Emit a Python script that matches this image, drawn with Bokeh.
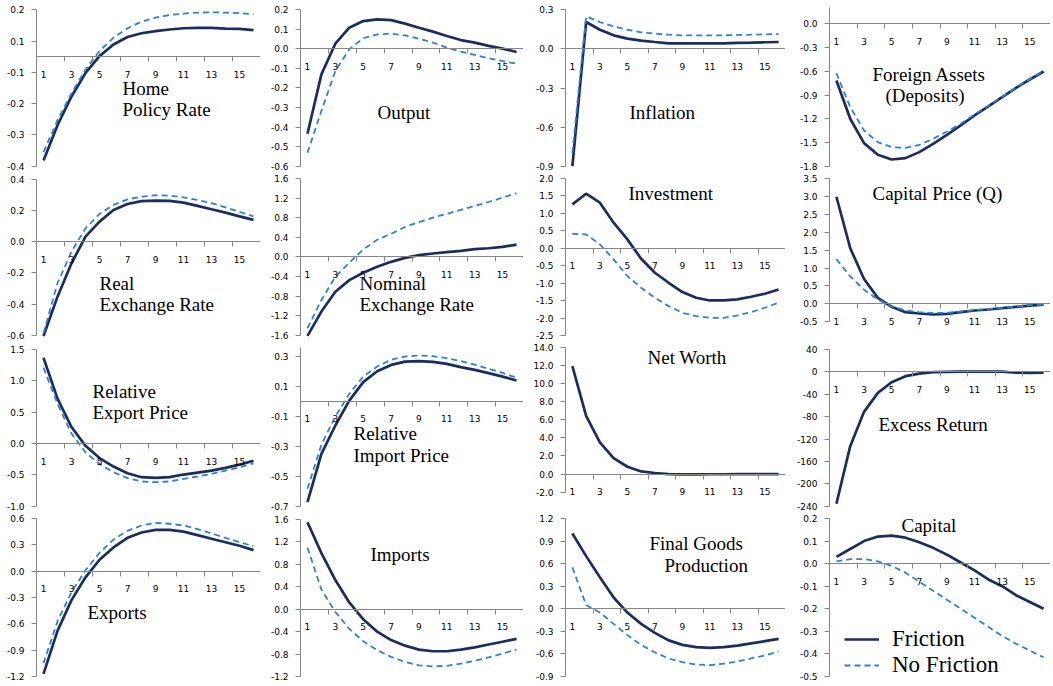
from bokeh.plotting import figure
from bokeh.layouts import gridplot
from bokeh.models import LinearAxis, FixedTicker, Range1d, Label, Legend, LegendItem
from bokeh.embed import file_html
from bokeh.resources import INLINE

# ---------------- data ----------------
periods = list(range(1, 17))
x_label_periods = [1, 3, 5, 7, 9, 11, 13, 15]

home_policy_friction = [-0.332, -0.219, -0.127, -0.052, 0.002, 0.039, 0.063, 0.075, 0.082, 0.087, 0.091, 0.092, 0.092, 0.090, 0.089, 0.085]
home_policy_nofriction = [-0.305, -0.203, -0.117, -0.041, 0.018, 0.061, 0.091, 0.112, 0.125, 0.133, 0.138, 0.141, 0.142, 0.141, 0.139, 0.136]
home_policy_ticks = [-0.35, -0.25, -0.15, -0.05, 0.05, 0.15]
home_policy_labels = ["-0.4", "-0.3", "-0.2", "-0.1", "0.1", "0.2"]

output_friction = [-0.434, -0.131, 0.026, 0.107, 0.141, 0.150, 0.146, 0.128, 0.107, 0.087, 0.065, 0.044, 0.031, 0.014, 0.000, -0.017]
output_nofriction = [-0.531, -0.318, -0.114, -0.003, 0.053, 0.073, 0.077, 0.068, 0.051, 0.031, 0.005, -0.015, -0.032, -0.049, -0.063, -0.077]
output_ticks = [-0.6, -0.5, -0.4, -0.3, -0.2, -0.1, 0.0, 0.1, 0.2]
output_labels = ["-0.6", "-0.5", "-0.4", "-0.3", "-0.2", "-0.1", "0.0", "0.1", "0.2"]

inflation_friction = [-0.90, 0.206, 0.147, 0.104, 0.079, 0.064, 0.053, 0.043, 0.043, 0.043, 0.043, 0.043, 0.046, 0.048, 0.051, 0.053]
inflation_nofriction = [-0.80, 0.249, 0.206, 0.173, 0.147, 0.127, 0.117, 0.109, 0.104, 0.104, 0.104, 0.104, 0.107, 0.109, 0.112, 0.114]
inflation_ticks = [-0.9, -0.6, -0.3, 0.0, 0.3]
inflation_labels = ["-0.9", "-0.6", "-0.3", "0.0", "0.3"]

foreign_friction = [-0.716, -1.200, -1.508, -1.656, -1.715, -1.698, -1.622, -1.517, -1.403, -1.285, -1.159, -1.045, -0.927, -0.809, -0.704, -0.603]
foreign_nofriction = [-0.624, -1.053, -1.348, -1.496, -1.559, -1.567, -1.530, -1.454, -1.361, -1.264, -1.145, -1.035, -0.922, -0.806, -0.700, -0.600]
foreign_ticks = [-1.8, -1.5, -1.2, -0.9, -0.6, -0.3, 0.0]
foreign_labels = ["-1.8", "-1.5", "-1.2", "-0.9", "-0.6", "-0.3", "0.0"]

real_er_friction = [-0.605, -0.353, -0.139, 0.032, 0.128, 0.203, 0.241, 0.259, 0.263, 0.261, 0.250, 0.229, 0.207, 0.186, 0.162, 0.139]
real_er_nofriction = [-0.588, -0.267, -0.064, 0.085, 0.177, 0.235, 0.271, 0.288, 0.297, 0.295, 0.284, 0.267, 0.246, 0.220, 0.190, 0.162]
real_er_ticks = [-0.6, -0.4, -0.2, 0.0, 0.2, 0.4]
real_er_labels = ["-0.6", "-0.4", "-0.2", "0.0", "0.2", "0.4"]

nominal_er_friction = [-1.613, -1.118, -0.712, -0.475, -0.325, -0.203, -0.102, -0.020, 0.034, 0.068, 0.095, 0.122, 0.156, 0.176, 0.203, 0.250]
nominal_er_nofriction = [-1.458, -0.881, -0.407, -0.120, 0.150, 0.350, 0.470, 0.610, 0.710, 0.800, 0.880, 0.960, 1.040, 1.120, 1.210, 1.300]
nominal_er_ticks = [-1.6, -1.2, -0.8, -0.4, 0.0, 0.4, 0.8, 1.2, 1.6]
nominal_er_labels = ["-1.6", "-1.2", "-0.8", "-0.4", "0.0", "0.4", "0.8", "1.2", "1.6"]

investment_friction = [1.26, 1.565, 1.307, 0.735, 0.258, -0.296, -0.697, -0.983, -1.250, -1.412, -1.489, -1.489, -1.460, -1.384, -1.298, -1.174]
investment_nofriction = [0.42, 0.40, 0.115, -0.315, -0.792, -1.126, -1.412, -1.651, -1.842, -1.937, -1.985, -1.985, -1.918, -1.823, -1.698, -1.555]
investment_ticks = [-2.5, -2.0, -1.5, -1.0, -0.5, 0.0, 0.5, 1.0, 1.5, 2.0]
investment_labels = ["-2.5", "-2.0", "-1.5", "-1.0", "-0.5", "0.0", "0.5", "1.0", "1.5", "2.0"]

capital_price_friction = [2.99, 1.556, 0.694, 0.167, -0.083, -0.231, -0.269, -0.296, -0.278, -0.231, -0.185, -0.157, -0.120, -0.083, -0.046, -0.019]
capital_price_nofriction = [1.25, 0.768, 0.398, 0.120, -0.065, -0.185, -0.231, -0.250, -0.250, -0.213, -0.176, -0.139, -0.111, -0.074, -0.037, -0.019]
capital_price_ticks = [-0.5, 0.0, 0.5, 1.0, 1.5, 2.0, 2.5, 3.0, 3.5]
capital_price_labels = ["-0.5", "0.0", "0.5", "1.0", "1.5", "2.0", "2.5", "3.0", "3.5"]

rel_export_friction = [1.368, 0.716, 0.263, -0.037, -0.232, -0.368, -0.474, -0.537, -0.547, -0.537, -0.495, -0.463, -0.432, -0.389, -0.337, -0.274]
rel_export_nofriction = [1.21, 0.632, 0.158, -0.142, -0.326, -0.458, -0.553, -0.605, -0.616, -0.605, -0.563, -0.526, -0.484, -0.432, -0.379, -0.316]
rel_export_ticks = [-1.0, -0.5, 0.0, 0.5, 1.0, 1.5]
rel_export_labels = ["-1.0", "-0.5", "0.0", "0.5", "1.0", "1.5"]

rel_import_friction = [-0.673, -0.351, -0.162, 0.004, 0.127, 0.200, 0.242, 0.264, 0.267, 0.262, 0.249, 0.227, 0.209, 0.187, 0.164, 0.138]
rel_import_nofriction = [-0.584, -0.289, -0.102, 0.049, 0.164, 0.231, 0.276, 0.298, 0.304, 0.300, 0.287, 0.267, 0.244, 0.216, 0.189, 0.156]
rel_import_ticks = [-0.7, -0.5, -0.3, -0.1, 0.1, 0.3]
rel_import_labels = ["-0.7", "-0.5", "-0.3", "-0.1", "0.1", "0.3"]

net_worth_friction = [11.9, 6.43, 3.49, 1.76, 0.81, 0.29, 0.12, 0.0, -0.03, -0.03, -0.02, -0.02, -0.01, -0.01, -0.01, -0.01]
net_worth_ticks = [-2.0, 0.0, 2.0, 4.0, 6.0, 8.0, 10.0, 12.0, 14.0]
net_worth_labels = ["-2.0", "0.0", "2.0", "4.0", "6.0", "8.0", "10.0", "12.0", "14.0"]

excess_return_friction = [-235.7, -132.7, -71.4, -37.5, -18.5, -7.7, -3.0, -0.6, 0.0, 0.5, 0.6, 0.6, 0.3, -1.5, -1.8, -1.5]
excess_return_ticks = [-240, -200, -160, -120, -80, -40, 0, 40]
excess_return_labels = ["-240", "-200", "-160", "-120", "-80", "-40", "0", "40"]

exports_friction = [-1.17, -0.68, -0.33, -0.07, 0.13, 0.27, 0.38, 0.44, 0.47, 0.47, 0.45, 0.41, 0.37, 0.33, 0.29, 0.24]
exports_nofriction = [-1.05, -0.57, -0.24, 0.01, 0.21, 0.36, 0.46, 0.52, 0.55, 0.54, 0.52, 0.48, 0.43, 0.38, 0.33, 0.285]
exports_ticks = [-1.2, -0.9, -0.6, -0.3, 0.0, 0.3, 0.6]
exports_labels = ["-1.2", "-0.9", "-0.6", "-0.3", "0.0", "0.3", "0.6"]

imports_friction = [1.55, 1.00, 0.52, 0.12, -0.18, -0.40, -0.55, -0.65, -0.72, -0.75, -0.75, -0.72, -0.68, -0.63, -0.58, -0.53]
imports_nofriction = [1.10, 0.35, -0.05, -0.35, -0.57, -0.73, -0.85, -0.94, -1.00, -1.02, -1.01, -0.97, -0.92, -0.86, -0.79, -0.72]
imports_ticks = [-1.2, -0.8, -0.4, 0.0, 0.4, 0.8, 1.2, 1.6]
imports_labels = ["-1.2", "-0.8", "-0.4", "0.0", "0.4", "0.8", "1.2", "1.6"]

final_goods_friction = [1.00, 0.70, 0.42, 0.15, -0.05, -0.20, -0.32, -0.42, -0.48, -0.51, -0.52, -0.51, -0.49, -0.46, -0.43, -0.40]
final_goods_nofriction = [0.55, 0.05, -0.05, -0.20, -0.35, -0.48, -0.58, -0.66, -0.71, -0.74, -0.75, -0.73, -0.70, -0.66, -0.62, -0.57]
final_goods_ticks = [-0.9, -0.6, -0.3, 0.0, 0.3, 0.6, 0.9, 1.2]
final_goods_labels = ["-0.9", "-0.6", "-0.3", "0.0", "0.3", "0.6", "0.9", "1.2"]

capital_friction = [0.030, 0.065, 0.100, 0.120, 0.124, 0.115, 0.095, 0.070, 0.040, 0.005, -0.030, -0.070, -0.100, -0.140, -0.170, -0.200]
capital_nofriction = [0.010, 0.020, 0.020, 0.010, -0.010, -0.040, -0.080, -0.120, -0.160, -0.200, -0.240, -0.280, -0.320, -0.355, -0.385, -0.415]
capital_ticks = [-0.5, -0.4, -0.3, -0.2, -0.1, 0.0, 0.1, 0.2]
capital_labels = ["-0.5", "-0.4", "-0.3", "-0.2", "-0.1", "0.0", "0.1", "0.2"]

legend_labels = ["Friction", "No Friction"]

# ---------------- style / layout ----------------
FRICTION_COLOR = "#1B2D5E"
NOFRICTION_COLOR = "#2F80CF"
AXIS_COLOR = "#868686"
TICK_COLOR = "#000000"
TICK_FONT = "DejaVu Sans"
TITLE_FONT = "Liberation Serif"
TITLE_SIZE = "19px"
TITLE_DY = -6.5                      # baseline correction (px)

COL_X = [0, 262, 525, 787]          # page x where each column starts
COL_LEFT = [36, 40, 42, 44]         # left border (y-axis position inside column)
COL_FRAME_W = [224, 223, 220, 221]  # plotting width (16 periods)
ROW_Y = [0, 171, 342, 513]
ROW_H = 171

# calibration: (value at top px, top px, value at bottom px, bottom px) in page pixels,
# axis bounds, and title lines (text, left px, baseline px)
panels = [
    [
        dict(fr=home_policy_friction, nf=home_policy_nofriction, yt=home_policy_ticks, yl=home_policy_labels,
             cal=(0.15, 9.3, -0.35, 165.7), bounds=(-0.35, 0.15),
             title=[("Home", 122, 94), ("Policy Rate", 122, 115)]),
        dict(fr=output_friction, nf=output_nofriction, yt=output_ticks, yl=output_labels,
             cal=(0.2, 9.0, -0.6, 165.7), bounds=(-0.6, 0.2),
             title=[("Output", 379, 118)]),
        dict(fr=inflation_friction, nf=inflation_nofriction, yt=inflation_ticks, yl=inflation_labels,
             cal=(0.3, 9.3, -0.9, 165.7), bounds=(-0.9, 0.3),
             title=[("Inflation", 631, 118)]),
        dict(fr=foreign_friction, nf=foreign_nofriction, yt=foreign_ticks, yl=foreign_labels,
             cal=(0.0, 23.3, -1.8, 165.7), bounds=(-1.8, 0.2),
             title=[("Foreign Assets", 874, 80), ("(Deposits)", 887, 101)]),
    ],
    [
        dict(fr=real_er_friction, nf=real_er_nofriction, yt=real_er_ticks, yl=real_er_labels,
             cal=(0.4, 178.7, -0.6, 334.7), bounds=(-0.6, 0.4),
             title=[("Real", 99, 289), ("Exchange Rate", 99, 310)]),
        dict(fr=nominal_er_friction, nf=nominal_er_nofriction, yt=nominal_er_ticks, yl=nominal_er_labels,
             cal=(1.6, 178.0, -1.6, 334.7), bounds=(-1.6, 1.6),
             title=[("Nominal", 361, 289), ("Exchange Rate", 361, 310)]),
        dict(fr=investment_friction, nf=investment_nofriction, yt=investment_ticks, yl=investment_labels,
             cal=(2.0, 178.0, -2.5, 335.3), bounds=(-2.5, 2.0),
             title=[("Investment", 630, 199)]),
        dict(fr=capital_price_friction, nf=capital_price_nofriction, yt=capital_price_ticks, yl=capital_price_labels,
             cal=(3.5, 178.0, -0.5, 321.3), bounds=(-0.5, 3.5),
             title=[("Capital Price (Q)", 874, 199)]),
    ],
    [
        dict(fr=rel_export_friction, nf=rel_export_nofriction, yt=rel_export_ticks, yl=rel_export_labels,
             cal=(1.5, 349.0, -1.0, 505.7), bounds=(-1.0, 1.5),
             title=[("Relative", 92, 397), ("Export Price", 92, 418)]),
        dict(fr=rel_import_friction, nf=rel_import_nofriction, yt=rel_import_ticks, yl=rel_import_labels,
             cal=(0.3, 355.7, -0.7, 505.7), bounds=(-0.7, 0.36),
             title=[("Relative", 355, 439), ("Import Price", 355, 461)]),
        dict(fr=net_worth_friction, nf=None, yt=net_worth_ticks, yl=net_worth_labels,
             cal=(14.0, 346.7, -2.0, 491.7), bounds=(-2.0, 14.0),
             title=[("Net Worth", 649, 363)]),
        dict(fr=excess_return_friction, nf=None, yt=excess_return_ticks, yl=excess_return_labels,
             cal=(40, 349.0, -240, 505.7), bounds=(-240, 40),
             title=[("Excess Return", 880, 430)]),
    ],
    [
        dict(fr=exports_friction, nf=exports_nofriction, yt=exports_ticks, yl=exports_labels,
             cal=(0.6, 518.0, -1.2, 676.0), bounds=(-1.2, 0.6),
             title=[("Exports", 87, 618)]),
        dict(fr=imports_friction, nf=imports_nofriction, yt=imports_ticks, yl=imports_labels,
             cal=(1.6, 519.0, -1.2, 676.0), bounds=(-1.2, 1.6),
             title=[("Imports", 372, 560)]),
        dict(fr=final_goods_friction, nf=final_goods_nofriction, yt=final_goods_ticks, yl=final_goods_labels,
             cal=(1.2, 518.0, -0.9, 676.0), bounds=(-0.9, 1.2),
             title=[("Final Goods", 651, 549), ("Production", 666, 571)]),
        dict(fr=capital_friction, nf=capital_nofriction, yt=capital_ticks, yl=capital_labels,
             cal=(0.2, 518.0, -0.5, 676.0), bounds=(-0.5, 0.2),
             title=[("Capital", 903, 531)], legend=True),
    ],
]

x_start = periods[0] - 0.5
x_end = periods[-1] + 0.5
x_tick_marks = [k + 0.5 for k in periods if k % 2 == 0]


def make_panel(spec, r, c):
    left = COL_LEFT[c]
    fw = COL_FRAME_W[c]
    frame_left = COL_X[c] + left
    frame_top = ROW_Y[r]
    frame_bottom = ROW_Y[r] + ROW_H
    v_top, px_top, v_bot, px_bot = spec["cal"]
    s = (v_top - v_bot) / (px_bot - px_top)          # value per pixel
    y_end = v_top + (px_top - frame_top) * s
    y_start = v_bot - (frame_bottom - px_bot) * s

    p = figure(width=left + fw, height=ROW_H, output_backend="svg", toolbar_location=None, tools="",
               x_axis_location=None, y_axis_location=None, title=None,
               x_range=Range1d(x_start, x_end), y_range=Range1d(y_start, y_end),
               min_border_left=left, min_border_right=0, min_border_top=0, min_border_bottom=0)
    p.outline_line_color = None
    p.xgrid.visible = False
    p.ygrid.visible = False
    p.background_fill_color = "white"
    p.border_fill_color = "white"

    yaxis = LinearAxis(ticker=FixedTicker(ticks=spec["yt"], minor_ticks=[]), bounds=spec["bounds"],
                       major_label_overrides=dict(zip(spec["yt"], spec["yl"])),
                       axis_line_color=AXIS_COLOR, major_tick_line_color=AXIS_COLOR,
                       major_tick_out=5, major_tick_in=0, minor_tick_line_color=None,
                       major_label_text_font=TICK_FONT, major_label_text_font_size="9px",
                       major_label_text_color=TICK_COLOR, major_label_standoff=7)
    p.add_layout(yaxis, "left")

    xaxis = LinearAxis(fixed_location=0, ticker=FixedTicker(ticks=x_label_periods, minor_ticks=x_tick_marks),
                       axis_line_color=AXIS_COLOR, major_tick_line_color=None,
                       major_tick_out=0, major_tick_in=0,
                       minor_tick_line_color=AXIS_COLOR, minor_tick_out=5, minor_tick_in=0,
                       major_label_text_font=TICK_FONT, major_label_text_font_size="9px",
                       major_label_text_color=TICK_COLOR, major_label_standoff=9)
    p.add_layout(xaxis, "below")

    r_solid = p.line(periods, spec["fr"], line_color=FRICTION_COLOR, line_width=2.7)
    r_dash = None
    if spec["nf"] is not None:
        r_dash = p.line(periods, spec["nf"], line_color=NOFRICTION_COLOR, line_width=1.8, line_dash="6 4")

    for text, px, py in spec["title"]:
        p.add_layout(Label(x=x_start + (px - frame_left) / fw * (x_end - x_start),
                           y=v_top - (py + TITLE_DY - px_top) * s, text=text,
                           text_font=TITLE_FONT, text_font_size=TITLE_SIZE,
                           text_color="black", text_baseline="alphabetic"))

    if spec.get("legend"):
        legend = Legend(items=[LegendItem(label=legend_labels[0], renderers=[r_solid]),
                               LegendItem(label=legend_labels[1], renderers=[r_dash])],
                        location=(15, 6), orientation="vertical",
                        label_text_font=TITLE_FONT, label_text_font_size="23px",
                        label_text_color="black",
                        glyph_width=35, glyph_height=20, label_height=20,
                        label_standoff=13, spacing=0, padding=0, margin=0,
                        border_line_color=None, background_fill_alpha=0)
        p.add_layout(legend)
    return p


rows = [[make_panel(spec, r, c) for c, spec in enumerate(row)] for r, row in enumerate(panels)]
grid = gridplot(rows, toolbar_location=None)

open("out.html", "w").write(file_html(grid, INLINE))
